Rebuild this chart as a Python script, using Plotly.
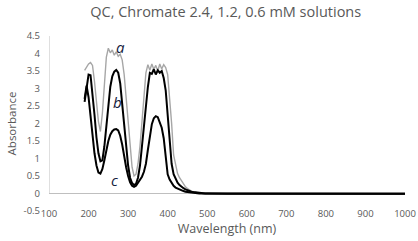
import plotly.graph_objects as go

# Wavelength grid (nm)
wavelength = [190, 195, 200, 205, 210, 215, 220, 225, 230, 235, 240, 245, 250, 255, 260,
              265, 270, 275, 280, 285, 290, 295, 300, 305, 310, 315, 320, 325, 330, 335,
              340, 345, 350, 355, 360, 365, 370, 375, 380, 385, 390, 395, 400, 405, 410,
              415, 420, 425, 430, 435, 440, 445, 450, 455, 460, 465, 470, 475, 480, 485,
              490, 495, 500, 520, 550, 600, 650, 700, 750, 800, 850, 900, 950, 1000]

# a: 2.4 mM (grey)
abs_a = [3.52, 3.62, 3.70, 3.74, 3.66, 3.20, 2.62, 2.05, 1.77, 2.30, 3.10, 3.90, 4.15, 4.02, 4.10,
         3.95, 4.05, 3.92, 3.98, 3.82, 3.40, 2.75, 1.95, 1.35, 0.75, 0.50, 0.55, 0.85, 1.35, 2.05,
         2.85, 3.45, 3.68, 3.52, 3.70, 3.55, 3.66, 3.50, 3.70, 3.56, 3.68, 3.60, 3.40, 2.80, 2.00,
         1.10, 0.78, 0.57, 0.45, 0.35, 0.26, 0.19, 0.14, 0.10, 0.07, 0.05, 0.03, 0.02, 0.01, 0.005,
         0.0, 0.0, 0.0, 0.0, 0.0, 0.0, 0.0, 0.0, 0.0, 0.0, 0.0, 0.0, 0.0, 0.0]

# b: 1.2 mM (black)
abs_b = [2.62, 3.10, 3.40, 3.38, 2.90, 2.25, 1.60, 1.15, 0.92, 0.95, 1.35, 1.95, 2.55, 3.05, 3.35,
         3.48, 3.53, 3.45, 3.15, 2.55, 1.85, 1.25, 0.80, 0.45, 0.30, 0.24, 0.28, 0.45, 0.80, 1.35,
         1.95, 2.45, 3.05, 3.45, 3.42, 3.55, 3.40, 3.52, 3.45, 3.50, 3.30, 2.95, 2.25, 1.35, 0.85,
         0.55, 0.40, 0.31, 0.24, 0.19, 0.15, 0.12, 0.09, 0.07, 0.05, 0.04, 0.03, 0.02, 0.01, 0.005,
         0.0, 0.0, 0.0, -0.01, -0.01, -0.01, -0.01, -0.01, -0.01, -0.01, -0.01, -0.01, -0.01, -0.01]

# c: 0.6 mM (black)
abs_c = [2.70, 3.08, 2.75, 2.20, 1.67, 1.15, 0.80, 0.60, 0.57, 0.70, 0.95, 1.25, 1.50, 1.68, 1.78,
         1.83, 1.84, 1.80, 1.65, 1.40, 1.05, 0.75, 0.50, 0.32, 0.22, 0.19, 0.22, 0.30, 0.40, 0.48,
         0.62, 0.85, 1.25, 1.67, 1.98, 2.15, 2.21, 2.18, 2.02, 1.88, 1.58, 1.00, 0.55, 0.40, 0.29,
         0.22, 0.17, 0.14, 0.11, 0.09, 0.07, 0.05, 0.04, 0.03, 0.02, 0.015, 0.01, 0.005, 0.0, 0.0,
         0.0, 0.0, 0.0, -0.01, -0.01, -0.01, -0.01, -0.01, -0.01, -0.01, -0.01, -0.01, -0.01, -0.01]

series_labels = ["a", "b", "c"]
label_x = [280, 273, 265]
label_y = [4.2, 2.62, 0.38]

ytick_vals = [-0.5, 0, 0.5, 1, 1.5, 2, 2.5, 3, 3.5, 4, 4.5]
ytick_text = ["-0.5", "0", "0.5", "1", "1.5", "2", "2.5", "3", "3.5", "4", "4.5"]
xtick_vals = [100, 200, 300, 400, 500, 600, 700, 800, 900, 1000]
xtick_text = ["100", "200", "300", "400", "500", "600", "700", "800", "900", "1000"]

GREY_TEXT = "#595959"
FONT = "Open Sans"

fig = go.Figure()
fig.add_trace(go.Scatter(x=wavelength, y=abs_a, mode="lines",
                         line=dict(color="#a6a6a6", width=1.4), showlegend=False))
fig.add_trace(go.Scatter(x=wavelength, y=abs_b, mode="lines",
                         line=dict(color="#000000", width=2), showlegend=False))
fig.add_trace(go.Scatter(x=wavelength, y=abs_c, mode="lines",
                         line=dict(color="#000000", width=2), showlegend=False))

for lab, lx, ly in zip(series_labels, label_x, label_y):
    fig.add_annotation(x=lx, y=ly, text=f"<i>{lab}</i>", showarrow=False,
                       font=dict(family="Open Sans", size=15, color="#14213d"))

# vertical axis line (from 0 to top)
fig.add_shape(type="line", xref="x", yref="y", x0=100, x1=100, y0=0, y1=4.5,
              line=dict(color="#bfbfbf", width=1), layer="below")

fig.update_layout(
    width=418, height=241,
    margin=dict(l=49, r=13, t=36, b=30, autoexpand=False),
    paper_bgcolor="white", plot_bgcolor="white",
    title=dict(text="QC, Chromate 2.4, 1.2, 0.6 mM solutions", x=0.54, xanchor="center",
               y=0.95, yanchor="middle", automargin=False,
               font=dict(family=FONT, size=14.5, color=GREY_TEXT)),
    font=dict(family=FONT, color=GREY_TEXT),
)
fig.update_xaxes(range=[100, 1000], tickvals=xtick_vals, ticktext=xtick_text,
                 showgrid=False, zeroline=False, showline=False, ticks="",
                 automargin=False, ticklabelstandoff=-5,
                 tickfont=dict(family=FONT, size=9.5, color=GREY_TEXT),
                 title=dict(text="Wavelength (nm)", standoff=0,
                            font=dict(family=FONT, size=12.5, color=GREY_TEXT)))
fig.update_yaxes(range=[-0.5, 4.5], tickvals=ytick_vals, ticktext=ytick_text,
                 showgrid=False, zeroline=True, zerolinecolor="#bfbfbf", zerolinewidth=1,
                 showline=False, ticks="", ticklabelstandoff=8, automargin=False,
                 tickfont=dict(family=FONT, size=9.5, color=GREY_TEXT),
                 title=dict(text="Absorbance", standoff=4,
                            font=dict(family=FONT, size=11.5, color=GREY_TEXT)))

fig.write_html("out.html", config={"displayModeBar": False},
               post_script="document.body.style.margin='0';")
